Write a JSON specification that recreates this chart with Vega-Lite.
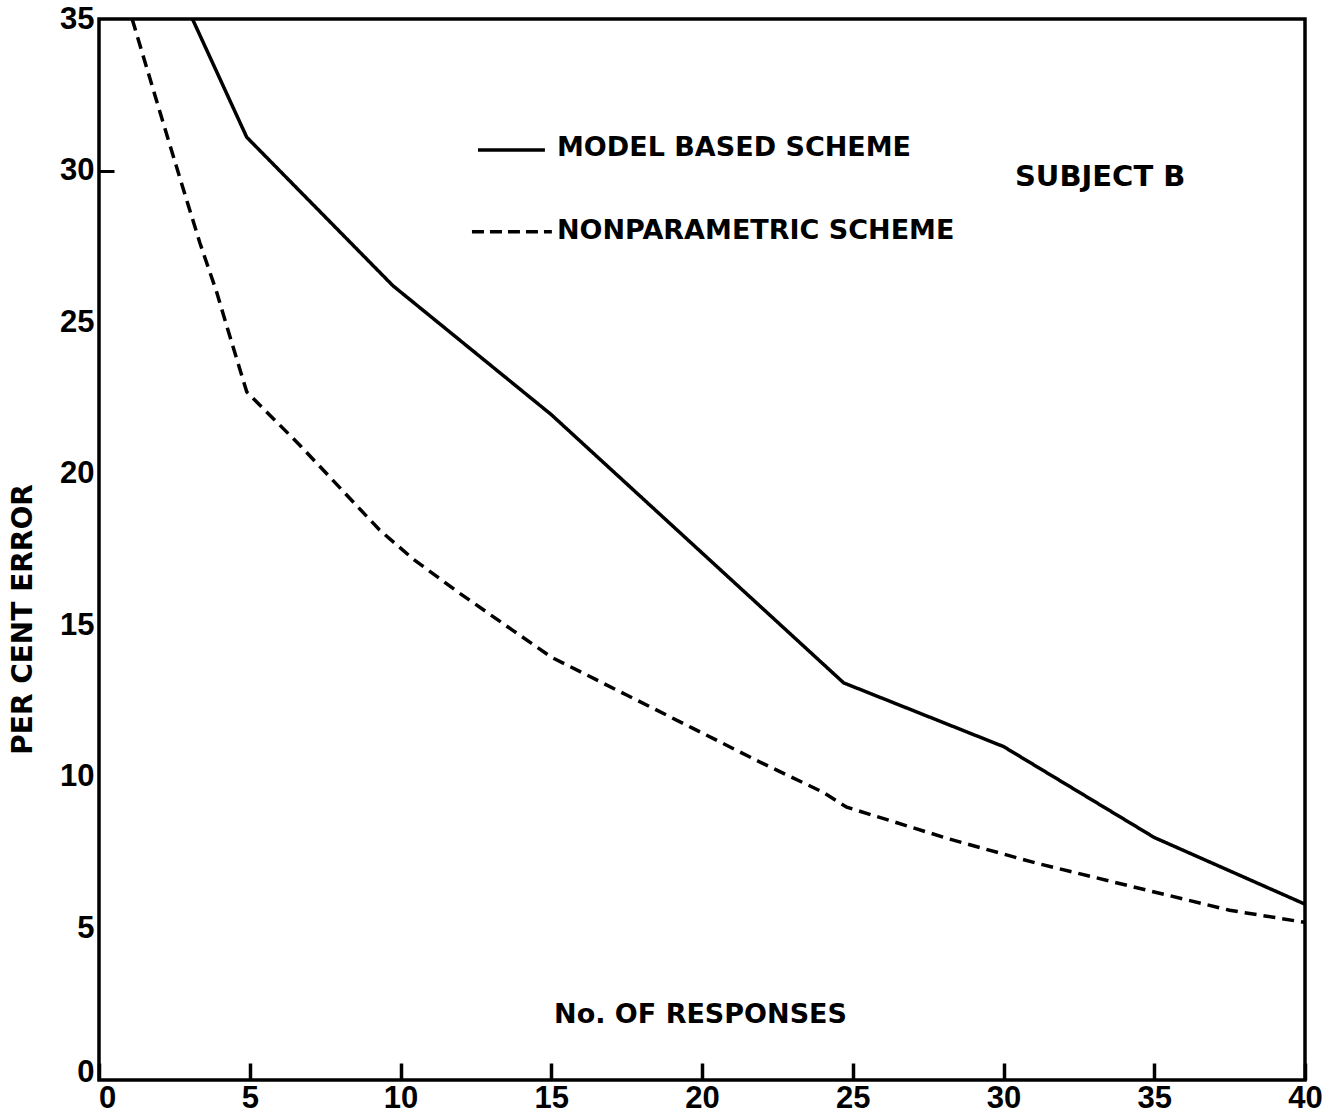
{
  "$schema": "https://vega.github.io/schema/vega-lite/v6.json",
  "width": 1206,
  "height": 1061,
  "autosize": {"type": "none"},
  "padding": {"left": 99, "top": 19, "right": 26, "bottom": 35},
  "background": "white",
  "config": {
    "view": {"stroke": "black", "strokeWidth": 3.5},
    "axis": {
      "domain": false,
      "grid": false,
      "tickColor": "black",
      "tickWidth": 3,
      "labelColor": "black",
      "titleColor": "black"
    },
    "text": {"font": "DejaVu Sans", "fontWeight": "bold", "color": "black"}
  },
  "datasets": {
    "curves": [
      {"responses": 3.1, "error": 35.0, "scheme": "MODEL BASED SCHEME"},
      {"responses": 4.9, "error": 31.1, "scheme": "MODEL BASED SCHEME"},
      {"responses": 9.75, "error": 26.2, "scheme": "MODEL BASED SCHEME"},
      {"responses": 15.0, "error": 21.95, "scheme": "MODEL BASED SCHEME"},
      {"responses": 24.7, "error": 13.1, "scheme": "MODEL BASED SCHEME"},
      {"responses": 30.0, "error": 11.0, "scheme": "MODEL BASED SCHEME"},
      {"responses": 35.0, "error": 8.0, "scheme": "MODEL BASED SCHEME"},
      {"responses": 40.0, "error": 5.8, "scheme": "MODEL BASED SCHEME"},
      {"responses": 1.1, "error": 35.0, "scheme": "NONPARAMETRIC SCHEME"},
      {"responses": 2.0, "error": 32.0, "scheme": "NONPARAMETRIC SCHEME"},
      {"responses": 2.7, "error": 29.7, "scheme": "NONPARAMETRIC SCHEME"},
      {"responses": 3.35, "error": 27.6, "scheme": "NONPARAMETRIC SCHEME"},
      {"responses": 3.9, "error": 26.0, "scheme": "NONPARAMETRIC SCHEME"},
      {"responses": 4.35, "error": 24.5, "scheme": "NONPARAMETRIC SCHEME"},
      {"responses": 4.9, "error": 22.7, "scheme": "NONPARAMETRIC SCHEME"},
      {"responses": 6.7, "error": 20.9, "scheme": "NONPARAMETRIC SCHEME"},
      {"responses": 9.3, "error": 18.15, "scheme": "NONPARAMETRIC SCHEME"},
      {"responses": 10.4, "error": 17.2, "scheme": "NONPARAMETRIC SCHEME"},
      {"responses": 11.9, "error": 16.1, "scheme": "NONPARAMETRIC SCHEME"},
      {"responses": 13.7, "error": 14.85, "scheme": "NONPARAMETRIC SCHEME"},
      {"responses": 15.0, "error": 13.95, "scheme": "NONPARAMETRIC SCHEME"},
      {"responses": 17.5, "error": 12.7, "scheme": "NONPARAMETRIC SCHEME"},
      {"responses": 19.7, "error": 11.6, "scheme": "NONPARAMETRIC SCHEME"},
      {"responses": 21.9, "error": 10.5, "scheme": "NONPARAMETRIC SCHEME"},
      {"responses": 24.0, "error": 9.5, "scheme": "NONPARAMETRIC SCHEME"},
      {"responses": 24.8, "error": 9.0, "scheme": "NONPARAMETRIC SCHEME"},
      {"responses": 28.2, "error": 7.95, "scheme": "NONPARAMETRIC SCHEME"},
      {"responses": 31.1, "error": 7.15, "scheme": "NONPARAMETRIC SCHEME"},
      {"responses": 34.6, "error": 6.3, "scheme": "NONPARAMETRIC SCHEME"},
      {"responses": 37.5, "error": 5.6, "scheme": "NONPARAMETRIC SCHEME"},
      {"responses": 40.0, "error": 5.2, "scheme": "NONPARAMETRIC SCHEME"}
    ]
  },
  "layer": [
    {
      "data": {"name": "curves"},
      "mark": {"type": "line", "strokeWidth": 3.5, "color": "black", "clip": true},
      "encoding": {
        "x": {
          "field": "responses",
          "type": "quantitative",
          "scale": {"domain": [0, 40], "nice": false, "zero": false},
          "axis": {
            "values": [0, 5, 10, 15, 20, 25, 30, 35, 40],
            "offset": -17,
            "tickSize": 17,
            "tickWidth": 3.5,
            "tickColor": "black",
            "labelFont": "Liberation Sans",
            "labelFontWeight": "bold",
            "labelFontSize": 31,
            "labelPadding": 3,
            "labelFlush": false,
            "labelOverlap": false,
            "labelOffset": {"condition": {"test": "datum.value === 0", "value": 8}, "value": 0},
            "title": "No. OF RESPONSES",
            "titleFont": "DejaVu Sans",
            "titleFontWeight": "bold",
            "titleFontSize": 27,
            "titleX": 601,
            "titleY": -49,
            "titleAlign": "center",
            "titleBaseline": "middle"
          }
        },
        "y": {
          "field": "error",
          "type": "quantitative",
          "scale": {"domain": [0, 35], "nice": false, "zero": false},
          "axis": {
            "values": [0, 5, 10, 15, 20, 25, 30, 35],
            "offset": -15,
            "tickSize": 15,
            "tickOpacity": {"condition": {"test": "datum.value === 30", "value": 1}, "value": 0},
            "labelFont": "Liberation Sans",
            "labelFontWeight": "bold",
            "labelFontSize": 31,
            "labelPadding": 5,
            "labelFlush": false,
            "labelOverlap": false,
            "labelOffset": {"condition": {"test": "datum.value === 0", "value": -8}, "value": 0},
            "title": "PER CENT ERROR",
            "titleFont": "DejaVu Sans",
            "titleFontWeight": "bold",
            "titleFontSize": 28,
            "titleX": -91,
            "titleY": 600,
            "titleAngle": -90,
            "titleAlign": "center",
            "titleBaseline": "middle"
          }
        },
        "strokeDash": {
          "field": "scheme",
          "type": "nominal",
          "scale": {"domain": ["MODEL BASED SCHEME", "NONPARAMETRIC SCHEME"], "range": [[1, 0], [12, 7]]},
          "legend": null
        }
      }
    },
    {
      "data": {"values": [{"scheme": "MODEL BASED SCHEME"}]},
      "mark": {"type": "rule", "strokeWidth": 3.5, "color": "black"},
      "encoding": {"x": {"datum": 12.57}, "x2": {"datum": 14.79}, "y": {"datum": 30.68}}
    },
    {
      "data": {"values": [{"scheme": "NONPARAMETRIC SCHEME"}]},
      "mark": {"type": "rule", "strokeWidth": 3.5, "color": "black", "strokeDash": [12, 6]},
      "encoding": {"x": {"datum": 12.37}, "x2": {"datum": 15.02}, "y": {"datum": 27.98}}
    },
    {
      "data": {"values": [{"label": "MODEL BASED SCHEME"}]},
      "mark": {"type": "text", "align": "left", "baseline": "middle", "fontSize": 27},
      "encoding": {"x": {"datum": 15.19}, "y": {"datum": 30.75}, "text": {"field": "label"}}
    },
    {
      "data": {"values": [{"label": "NONPARAMETRIC SCHEME"}]},
      "mark": {"type": "text", "align": "left", "baseline": "middle", "fontSize": 27},
      "encoding": {"x": {"datum": 15.19}, "y": {"datum": 28.0}, "text": {"field": "label"}}
    },
    {
      "data": {"values": [{"label": "SUBJECT B"}]},
      "mark": {"type": "text", "align": "left", "baseline": "middle", "fontSize": 29},
      "encoding": {"x": {"datum": 30.38}, "y": {"datum": 29.79}, "text": {"field": "label"}}
    }
  ]
}
